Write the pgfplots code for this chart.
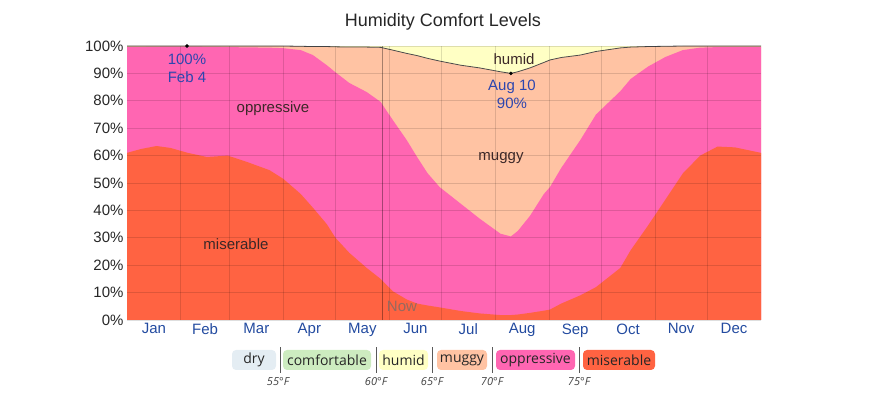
\documentclass[border=0pt]{standalone}
\usepackage{fontspec}
\setmainfont{Liberation Sans}
\newfontfamily\opensans{Open Sans}
\usepackage{pgfplots}
\pgfplotsset{compat=1.18}
\usepackage{pgfplotstable}

\definecolor{cmis}{RGB}{255,99,66}
\definecolor{copp}{RGB}{255,102,178}
\definecolor{cmug}{RGB}{255,195,163}
\definecolor{chum}{RGB}{255,255,196}
\definecolor{ccom}{RGB}{205,236,192}
\definecolor{cdry}{RGB}{228,237,243}
\definecolor{monthblue}{RGB}{35,75,160}
\definecolor{annblue}{RGB}{45,70,175}
\definecolor{lbltext}{RGB}{60,40,40}
\definecolor{nowtext}{RGB}{150,105,95}

\pgfplotstableread{
day M O G
0 61 99.6 100
8 62.4 99.6 100
17 63.5 99.7 100
25 62.8 99.8 100
35 61 99.8 100
46 59.5 99.7 100
58 60 99.6 100
69 57.7 99.5 100
82 54.7 99.4 100
90 51.5 99.2 100
100 46 98.5 99.9
107 41 96.7 99.8
115 35 93 99.8
120 30 90.4 99.7
128 24.5 86.5 99.6
138 19 83.2 99.6
146 15 79.6 99.5
153 10.5 73 98.5
161 7.5 65.7 97.3
167 6 59.5 96.5
173 5.3 53.6 95.5
180 4.6 48.5 94.5
192 3.3 42.5 93
203 2.4 37 92
215 1.8 31.5 90.6
221 1.8 30.5 90
225 2 32.5 90.6
232 2.6 38 92
240 3.4 46 94
243.5 3.8 48.5 94.9
250 6 55.5 95.8
261 9 65.7 96.7
270 12 75 98
284 19 83.5 99.3
290 25.5 88 99.6
300 34.5 92.5 99.8
310 44 96 99.9
320 53.5 98.5 100
330 60 99.4 100
340 63.3 99.6 100
350 63 99.6 100
365 61 99.6 100
}\humtable

\newcommand{\lblfont}{\fontsize{15}{18}\selectfont}

\begin{document}
\begin{tikzpicture}[x=1pt,y=1pt]
\path[use as bounding box] (0,0) rectangle (884,399);
\begin{axis}[
  at={(127pt,79pt)}, anchor=south west,
  scale only axis, width=634pt, height=274pt,
  xmin=0, xmax=365, ymin=0, ymax=100,
  axis on top, clip=false,
  axis line style={draw=none},
  ytick={0,10,...,100},
  yticklabels={0\%,10\%,20\%,30\%,40\%,50\%,60\%,70\%,80\%,90\%,100\%},
  xtick={15.5,45,74.5,105,135.5,166,196.5,227.5,258,288.5,319,349.5},
  xticklabels={Jan,Feb,Mar,Apr,May,Jun,Jul,Aug,Sep,Oct,Nov,Dec},
  minor xtick={31,59,90,120,151,181,212,243,273,304,334},
  xmajorgrids=false, xminorgrids=true, ymajorgrids=true,
  major tick length=0pt, minor tick length=0pt,
  grid style={black, opacity=0.13, line width=0.8pt},
  minor grid style={black, opacity=0.13, line width=0.8pt},
  tick label style={font=\fontsize{15}{18}\selectfont, text=black!85},
  x tick label style={text=monthblue},
]
\addplot[fill=chum, draw=none] coordinates {(0,100) (365,100)} \closedcycle;
\addplot[fill=cmug, draw=none] table[x=day,y=G] {\humtable} \closedcycle;
\addplot[fill=copp, draw=none] table[x=day,y=O] {\humtable} \closedcycle;
\addplot[fill=cmis, draw=none] table[x=day,y=M] {\humtable} \closedcycle;
\addplot[draw=black!70, line width=0.8pt] table[x=day,y=G] {\humtable};
\addplot[draw=black, opacity=0.35, line width=0.9pt] coordinates {(146.8,0) (146.8,100)};
\addplot[only marks, mark=*, mark size=1.6pt, black] coordinates {(34.5,100) (221,90)};
\end{axis}

% title
\node[font=\fontsize{18}{22}\selectfont, text=black!85] at (443,377) {Humidity Comfort Levels};

% area labels
\node[font=\lblfont, text=lbltext] at (273,290) {oppressive};
\node[font=\lblfont, text=lbltext] at (236,155) {miserable};
\node[font=\lblfont, text=lbltext] at (501,241) {muggy};
\node[font=\lblfont, text=lbltext] at (514,340) {humid};
\node[font=\lblfont, text=nowtext] at (402,93) {Now};

% annotations
\node[font=\lblfont, text=annblue, align=center, inner sep=0pt] at (187,331) {100\%\\[0pt]Feb 4};
\node[font=\lblfont, text=annblue, align=center, inner sep=0pt] at (512,305) {Aug 10\\[0pt]90\%};

% legend
\begin{scope}[every node/.style={font=\opensans\fontsize{14}{16}\selectfont, text=black!85}]
\fill[cdry, rounded corners=4pt] (232,29) rectangle (276,49);
\node at (254,39) {dry};
\fill[ccom, rounded corners=4pt] (283,29) rectangle (371,49);
\node at (327,39) {comfortable};
\fill[chum, rounded corners=4pt] (379,29) rectangle (428,49);
\node at (403.5,39) {humid};
\fill[cmug, rounded corners=4pt] (437,29) rectangle (487,49);
\node at (462,39) {muggy};
\fill[copp, rounded corners=4pt] (496,29) rectangle (575,49);
\node at (535.5,39) {oppressive};
\fill[cmis, rounded corners=4pt] (583,29) rectangle (655,49);
\node at (619,39) {miserable};
\end{scope}
\foreach \sx in {280,376,432,492,579}{\draw[black!65, line width=0.8pt] (\sx,26) -- (\sx,52);}
\begin{scope}[every node/.style={font=\opensans\itshape\fontsize{11}{13}\selectfont, text=black!75}]
\node at (278,17) {55°F};
\node at (376,17) {60°F};
\node at (432,17) {65°F};
\node at (492,17) {70°F};
\node at (579,17) {75°F};
\end{scope}
\end{tikzpicture}
\end{document}
